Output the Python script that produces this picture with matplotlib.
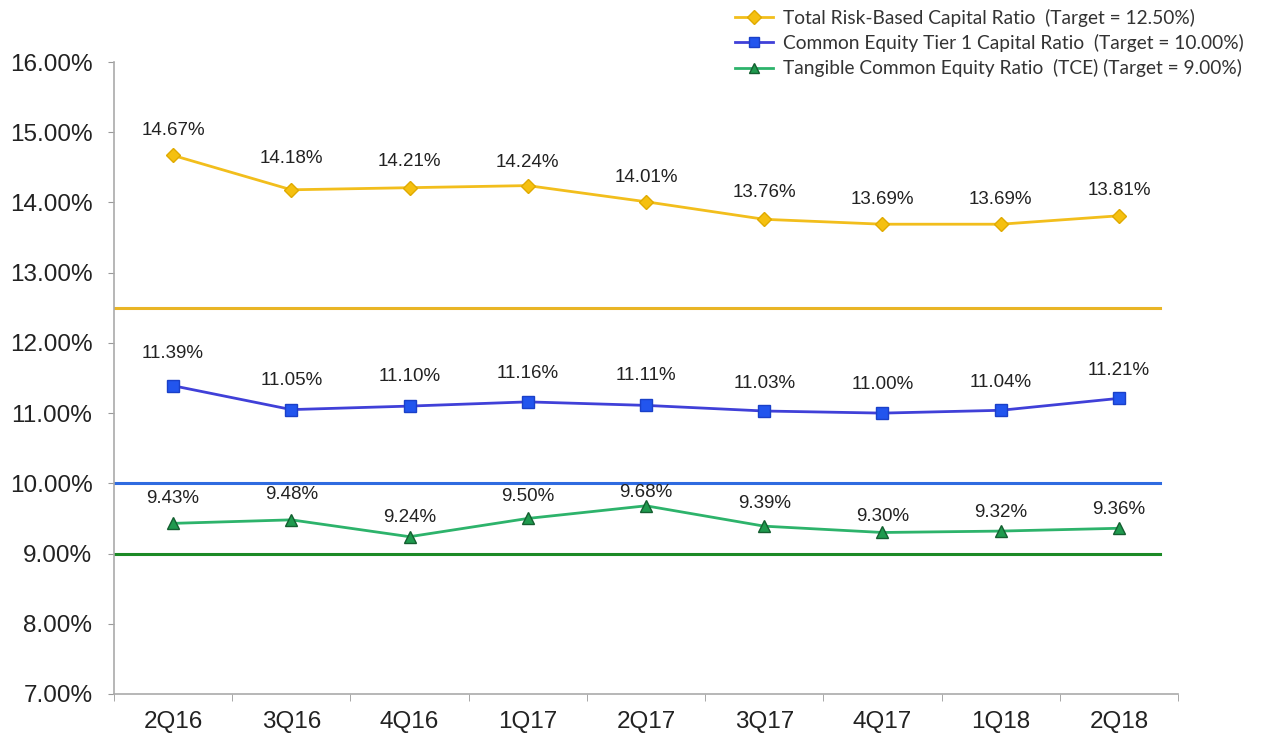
import matplotlib
matplotlib.use("Agg")
import matplotlib.pyplot as plt
from matplotlib.ticker import FuncFormatter

quarters = ["2Q16", "3Q16", "4Q16", "1Q17", "2Q17", "3Q17", "4Q17", "1Q18", "2Q18"]
total_rbc = [14.67, 14.18, 14.21, 14.24, 14.01, 13.76, 13.69, 13.69, 13.81]
cet1 = [11.39, 11.05, 11.10, 11.16, 11.11, 11.03, 11.00, 11.04, 11.21]
tce = [9.43, 9.48, 9.24, 9.50, 9.68, 9.39, 9.30, 9.32, 9.36]
targets = [12.50, 10.00, 9.00]

legend_labels = [
    "Total Risk-Based Capital Ratio  (Target = 12.50%)",
    "Common Equity Tier 1 Capital Ratio  (Target = 10.00%)",
    "Tangible Common Equity Ratio  (TCE) (Target = 9.00%)",
]

# how far (px) each data label sits above its point, as placed in the original
rbc_lift = [25, 31, 26, 23, 24, 27, 25, 25, 25]
cet1_lift = [32, 29, 30, 28, 30, 28, 29, 28, 28]
tce_lift = [25, 25, 19, 22, 13, 23, 16, 19, 19]

plt.rcParams['font.family'] = ['Liberation Sans', 'DejaVu Sans']

fig = plt.figure(figsize=(12.63, 7.37), dpi=100)
ax = fig.add_axes([114/1263, 1-694/737, (1178-114)/1263, (694-62)/737])

x = list(range(len(quarters)))

# target lines
ax.plot([-0.5, 8.35], [targets[0]]*2, color='#E9B525', lw=2.2, zorder=2)
ax.plot([-0.5, 8.35], [targets[1]]*2, color='#2F6BE0', lw=2.2, zorder=2)
ax.plot([-0.5, 8.35], [targets[2]]*2, color='#1C8A26', lw=2.2, zorder=2)

# series
l1, = ax.plot(x, total_rbc, color='#F2BE1C', lw=2, marker='D', ms=7,
              mfc='#F5C010', mec='#E0AA00', zorder=3)
l2, = ax.plot(x, cet1, color='#4040D8', lw=2, marker='s', ms=9,
              mfc='#2255EE', mec='#1A40C8', zorder=3)
l3, = ax.plot(x, tce, color='#2DB36B', lw=2, marker='^', ms=9,
              mfc='#1F9A4E', mec='#145F30', zorder=3)

for series, lifts in ((total_rbc, rbc_lift), (cet1, cet1_lift), (tce, tce_lift)):
    for xi, v, d in zip(x, series, lifts):
        ax.annotate(f"{v:.2f}%", (xi, v), xytext=(0, d * 0.72), textcoords='offset points',
                    ha='center', va='center', fontsize=13.5, color='#222222')

ax.set_xlim(-0.5, 8.5)
ax.set_ylim(7, 16)
ax.set_yticks(range(7, 17))
ax.yaxis.set_major_formatter(FuncFormatter(lambda v, p: f"{v:.2f}%"))
ax.set_xticks(x)
ax.set_xticklabels(quarters)
ax.set_xticks([i - 0.5 for i in range(len(quarters) + 1)], minor=True)
ax.tick_params(axis='x', which='major', length=0, pad=12, labelsize=17.5, labelcolor='#222222')
ax.tick_params(axis='x', which='minor', length=5, color='#999999', direction='out')
ax.tick_params(axis='y', length=4.5, color='#999999', labelsize=17.5, labelcolor='#222222', pad=11)

for s in ('top', 'right'):
    ax.spines[s].set_visible(False)
for s in ('left', 'bottom'):
    ax.spines[s].set_color('#AAAAAA')
    ax.spines[s].set_linewidth(1.2)

leg = fig.legend([l1, l2, l3], legend_labels, loc='upper left',
                 bbox_to_anchor=(727/1263, 1 - 1/737), frameon=False,
                 prop={'family': 'Lato', 'size': 13.8}, handlelength=2.0,
                 handletextpad=0.5, labelspacing=0.38, borderaxespad=0)
for h in leg.legend_handles:
    h.set_markersize(7)
for t in leg.get_texts():
    t.set_color('#333333')

fig.savefig("out.png", dpi=100)
